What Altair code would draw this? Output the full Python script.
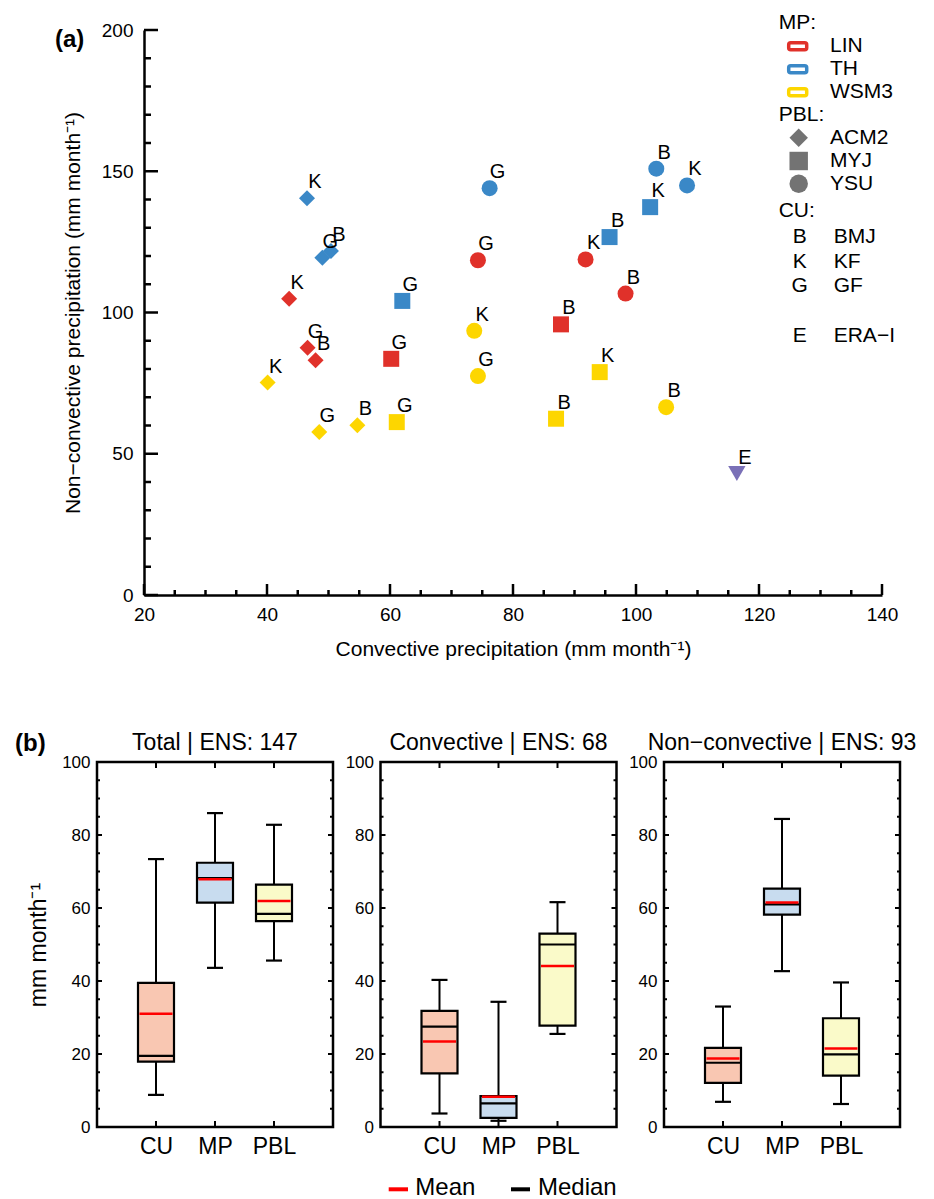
import altair as alt
import pandas as pd

FONT = "Liberation Sans"

# ---------------- Panel (a) data ----------------
run_mp = ['TH', 'TH', 'TH', 'LIN', 'LIN', 'LIN', 'WSM3', 'WSM3', 'WSM3', 'WSM3', 'LIN', 'TH', 'TH',
          'LIN', 'WSM3', 'WSM3', 'LIN', 'WSM3', 'LIN', 'TH', 'LIN', 'WSM3', 'TH', 'TH', 'TH', 'WSM3']
run_pbl = ['ACM2', 'ACM2', 'ACM2', 'ACM2', 'ACM2', 'ACM2', 'ACM2', 'ACM2', 'ACM2', 'MYJ', 'MYJ', 'MYJ', 'YSU',
           'YSU', 'YSU', 'YSU', 'MYJ', 'MYJ', 'YSU', 'MYJ', 'YSU', 'MYJ', 'MYJ', 'YSU', 'YSU', 'YSU']
run_cu = ['K', 'G', 'B', 'K', 'G', 'B', 'K', 'G', 'B', 'G', 'G', 'G', 'G',
          'G', 'K', 'G', 'B', 'B', 'K', 'B', 'B', 'K', 'K', 'B', 'K', 'B']
conv_precip = [46.5, 49.0, 50.4, 43.6, 46.6, 47.9, 40.1, 48.5, 54.7, 61.1, 60.2, 62.0, 76.2,
               74.3, 73.7, 74.3, 87.8, 87.0, 91.8, 95.7, 98.3, 94.1, 102.3, 103.3, 108.3, 104.9]
nonconv_precip = [140.4, 119.4, 121.8, 104.9, 87.5, 83.1, 75.2, 57.7, 60.1, 61.2, 83.6, 104.1, 144.0,
                  118.5, 93.5, 77.5, 95.8, 62.4, 118.8, 126.7, 106.7, 78.9, 137.3, 150.9, 145.0, 66.5]
era_conv = [116.4]
era_nonconv = [43.0]
era_code = ['E']

mp_names = ['LIN', 'TH', 'WSM3']
mp_colors = ['#E0312A', '#3A88C7', '#FDD600']
pbl_names = ['ACM2', 'MYJ', 'YSU']
pbl_shapes = ['diamond', 'square', 'circle']
cu_codes = ['B', 'K', 'G']
cu_names = ['BMJ', 'KF', 'GF']

x_major = [20, 40, 60, 80, 100, 120, 140]
x_minor = [25, 30, 35, 45, 50, 55, 65, 70, 75, 85, 90, 95, 105, 110, 115, 125, 130, 135]
y_major = [0, 50, 100, 150, 200]
y_minor = [10, 20, 30, 40, 60, 70, 80, 90, 110, 120, 130, 140, 160, 170, 180, 190]

# ---------------- Panel (b) data ----------------
groups = ['CU', 'MP', 'PBL']
box_colors = ['#F9C7B2', '#C8DCEF', '#FAFAC9']
panel_titles = ['Total | ENS: 147', 'Convective | ENS: 68', 'Non−convective | ENS: 93']

total_low = [8.8, 43.6, 45.6]
total_q1 = [17.9, 61.5, 56.4]
total_med = [19.5, 68.2, 58.4]
total_mean = [31.0, 67.9, 61.9]
total_q3 = [39.5, 72.4, 66.4]
total_high = [73.4, 86.0, 82.8]

conv_low = [3.7, 1.7, 25.5]
conv_q1 = [14.7, 2.5, 27.8]
conv_med = [27.5, 6.5, 50.0]
conv_mean = [23.4, 8.3, 44.1]
conv_q3 = [31.8, 8.5, 53.0]
conv_high = [40.3, 34.3, 61.6]

nonc_low = [6.9, 42.7, 6.3]
nonc_q1 = [12.1, 58.2, 14.1]
nonc_med = [17.6, 61.0, 19.9]
nonc_mean = [18.8, 61.5, 21.5]
nonc_q3 = [21.7, 65.3, 29.8]
nonc_high = [33.0, 84.4, 39.6]

b_major = [0, 20, 40, 60, 80, 100]
b_minor = [5, 10, 15, 25, 30, 35, 45, 50, 55, 65, 70, 75, 85, 90, 95]

# ---------------- helpers ----------------
def one_text(txt, x, y, size, align='left', weight='normal', color='black'):
    return alt.Chart(pd.DataFrame({'t': [txt]})).mark_text(
        align=align, baseline='middle', fontSize=size, fontWeight=weight, color=color, font=FONT
    ).encode(x=alt.value(x), y=alt.value(y), text='t:N')


# ---------------- Chart (a) ----------------
WA, HA = 738, 565
xs_a = alt.Scale(domain=[20, 140], nice=False, zero=False)
ys_a = alt.Scale(domain=[0, 200], nice=False, zero=False)
xax_a = alt.Axis(values=x_major, title='Convective precipitation (mm month⁻¹)', titleFontSize=21,
                 titleFontWeight='normal', titleColor='black', labelFontSize=19, labelColor='black',
                 labelPadding=10, titlePadding=14, ticks=False, domainColor='black', domainWidth=2.5,
                 grid=False, labelFlush=False, format='d')
yax_a = alt.Axis(values=y_major, title='Non−convective precipitation (mm month⁻¹)', titleFontSize=21,
                 titleFontWeight='normal', titleColor='black', labelFontSize=19, labelColor='black',
                 labelPadding=11, titlePadding=18, ticks=False, domainColor='black', domainWidth=2.5,
                 grid=False, format='d')


def XA(f):
    return alt.X(f, type='quantitative', scale=xs_a, axis=xax_a)


def YA(f):
    return alt.Y(f, type='quantitative', scale=ys_a, axis=yax_a)


runs = pd.DataFrame({'conv': conv_precip, 'nonconv': nonconv_precip, 'mp': run_mp,
                     'pbl': run_pbl, 'cu': run_cu})
era = pd.DataFrame({'conv': era_conv, 'nonconv': era_nonconv, 'cu': era_code})

pts = alt.Chart(runs).mark_point(filled=True, size=256, opacity=1, strokeWidth=0).encode(
    x=XA('conv'), y=YA('nonconv'),
    color=alt.Color('mp:N', scale=alt.Scale(domain=mp_names, range=mp_colors), legend=None),
    shape=alt.Shape('pbl:N', scale=alt.Scale(domain=pbl_names, range=pbl_shapes), legend=None))
lbl = alt.Chart(runs).mark_text(dx=8, dy=-16, fontSize=20, color='black', font=FONT).encode(
    x=XA('conv'), y=YA('nonconv'), text='cu:N')
era_pt = alt.Chart(era).mark_point(filled=True, shape='triangle-down', size=300, opacity=1,
                                   color='#7A70B7', strokeWidth=0).encode(x=XA('conv'), y=YA('nonconv'))
era_lbl = alt.Chart(era).mark_text(dx=8, dy=-16, fontSize=20, color='black', font=FONT).encode(
    x=XA('conv'), y=YA('nonconv'), text='cu:N')

xmaj = alt.Chart(pd.DataFrame({'v': x_major})).mark_rule(strokeWidth=2.5, color='black').encode(
    x=XA('v'), y=alt.value(HA), y2=alt.value(HA - 11))
xmin = alt.Chart(pd.DataFrame({'v': x_minor})).mark_rule(strokeWidth=2.5, color='black').encode(
    x=XA('v'), y=alt.value(HA), y2=alt.value(HA - 5))
ymaj = alt.Chart(pd.DataFrame({'v': y_major})).mark_rule(strokeWidth=2.5, color='black').encode(
    y=YA('v'), x=alt.value(0), x2=alt.value(14))
ymin = alt.Chart(pd.DataFrame({'v': y_minor})).mark_rule(strokeWidth=2.5, color='black').encode(
    y=YA('v'), x=alt.value(0), x2=alt.value(7))

layers_a = [xmaj, xmin, ymaj, ymin, pts, era_pt, lbl, era_lbl,
            one_text('(a)', -89, 10, 24, weight='bold')]

# custom legend (top right)
LX_HEAD, LX_SYM, LX_LAB, LX_CULAB = 634.7, 654.7, 686, 689.7
layers_a.append(one_text('MP:', LX_HEAD, -7.5, 21))
mp_rows = [16.3, 39.3, 62.3]
for name, col, yy in zip(mp_names, mp_colors, mp_rows):
    layers_a.append(alt.Chart(pd.DataFrame({'n': [name]})).mark_rect(
        fill='white', stroke=col, strokeWidth=3.5, cornerRadius=2).encode(
        x=alt.value(LX_SYM - 10), x2=alt.value(LX_SYM + 8), y=alt.value(yy - 3.5), y2=alt.value(yy + 3.5)))
    layers_a.append(one_text(name, LX_LAB, yy, 21))
layers_a.append(one_text('PBL:', LX_HEAD, 85, 21))
pbl_rows = [107.7, 131, 153.7]
for name, shp, yy in zip(pbl_names, pbl_shapes, pbl_rows):
    layers_a.append(alt.Chart(pd.DataFrame({'n': [name]})).mark_point(
        filled=True, shape=shp, size=340, opacity=1, color='#737373', strokeWidth=0).encode(
        x=alt.value(LX_SYM), y=alt.value(yy)))
    layers_a.append(one_text(name, LX_LAB, yy, 21))
layers_a.append(one_text('CU:', LX_HEAD, 180.7, 21))
cu_rows = [206.7, 231.7, 256]
for code, name, yy in zip(cu_codes, cu_names, cu_rows):
    layers_a.append(one_text(code, LX_SYM + 1, yy, 21, align='center'))
    layers_a.append(one_text(name, LX_CULAB, yy, 21))
layers_a.append(one_text('E', LX_SYM + 1, 306, 21, align='center'))
layers_a.append(one_text('ERA−I', LX_CULAB, 306, 21))

chart_a = alt.layer(*layers_a).properties(width=WA, height=HA)

spacer = alt.Chart(pd.DataFrame({'s': [0]})).mark_point(opacity=0).encode(
    x=alt.value(0), y=alt.value(0)).properties(width=1, height=HA)

row_a = alt.hconcat(spacer, chart_a, spacing=46, bounds='flush')

# ---------------- Chart (b) ----------------
WB, HB = 236, 365


def box_panel(title, low, q1, med, mean, q3, high, ytitle, extra=()):
    df = pd.DataFrame({'g': groups, 'low': low, 'q1': q1, 'med': med, 'mean': mean,
                       'q3': q3, 'high': high})
    xsc = alt.Scale(type='point', domain=groups, padding=1)
    ysc = alt.Scale(domain=[0, 100], nice=False, zero=False)
    xax = alt.Axis(title=None, labelFontSize=23, labelColor='black', labelPadding=8, ticks=False,
                   domain=False, labelAngle=0, grid=False)
    if ytitle:
        yax = alt.Axis(title=ytitle, values=b_major, labelFontSize=17, labelColor='black', labelPadding=7,
                       ticks=False, domain=False, grid=False, titleFontSize=23, titleFontWeight='normal',
                       titleColor='black', titlePadding=11, format='d')
    else:
        yax = alt.Axis(title=None, values=b_major, labelFontSize=17, labelColor='black', labelPadding=7,
                       ticks=False, domain=False, grid=False, format='d')

    def X():
        return alt.X('g:N', scale=xsc, axis=xax, sort=groups)

    def Y(f):
        return alt.Y(f, type='quantitative', scale=ysc, axis=yax)

    base = alt.Chart(df)
    whisk = base.mark_rule(strokeWidth=2, color='black').encode(x=X(), y=Y('low'), y2='high')
    cap_lo = base.mark_tick(size=16, thickness=2.2, color='black', opacity=1).encode(x=X(), y=Y('low'))
    cap_hi = base.mark_tick(size=16, thickness=2.2, color='black', opacity=1).encode(x=X(), y=Y('high'))
    box = base.mark_bar(size=36, stroke='black', strokeWidth=2.2, opacity=1).encode(
        x=X(), y=Y('q1'), y2='q3',
        fill=alt.Fill('g:N', scale=alt.Scale(domain=groups, range=box_colors), legend=None))
    medt = base.mark_tick(size=36, thickness=2.2, color='black', opacity=1).encode(x=X(), y=Y('med'))
    meant = base.mark_tick(size=33, thickness=2.5, color='#FF0000', opacity=1).encode(x=X(), y=Y('mean'))

    tmaj = pd.DataFrame({'v': b_major})
    tmin = pd.DataFrame({'v': b_minor})
    tg = pd.DataFrame({'g': groups})
    rules = [
        alt.Chart(tmaj).mark_rule(strokeWidth=2, color='black').encode(y=Y('v'), x=alt.value(0), x2=alt.value(5)),
        alt.Chart(tmin).mark_rule(strokeWidth=2, color='black').encode(y=Y('v'), x=alt.value(0), x2=alt.value(3)),
        alt.Chart(tmaj).mark_rule(strokeWidth=2, color='black').encode(y=Y('v'), x=alt.value(WB), x2=alt.value(WB - 5)),
        alt.Chart(tmin).mark_rule(strokeWidth=2, color='black').encode(y=Y('v'), x=alt.value(WB), x2=alt.value(WB - 3)),
        alt.Chart(tg).mark_rule(strokeWidth=2, color='black').encode(x=X(), y=alt.value(0), y2=alt.value(6)),
        alt.Chart(tg).mark_rule(strokeWidth=2, color='black').encode(x=X(), y=alt.value(HB), y2=alt.value(HB - 6)),
    ]
    ttl = one_text(title, WB / 2, -19.5, 23, align='center')
    return alt.layer(*rules, whisk, cap_lo, cap_hi, box, medt, meant, ttl, *extra).properties(
        width=WB, height=HB,
        view=alt.ViewBackground(stroke='black', strokeWidth=2.5))


b_label = [one_text('(b)', -82, -18, 24, weight='bold')]
legend_b = [
    alt.Chart(pd.DataFrame({'n': ['Mean']})).mark_rule(strokeWidth=4, color='#FF0000').encode(
        x=alt.value(8.2), x2=alt.value(27.5), y=alt.value(427.3)),
    one_text('Mean', 34.8, 426, 24),
    alt.Chart(pd.DataFrame({'n': ['Median']})).mark_rule(strokeWidth=4, color='black').encode(
        x=alt.value(130.5), x2=alt.value(149.5), y=alt.value(427.3)),
    one_text('Median', 157.5, 426, 24),
]

b1 = box_panel(panel_titles[0], total_low, total_q1, total_med, total_mean, total_q3, total_high,
               'mm month⁻¹', b_label)
b2 = box_panel(panel_titles[1], conv_low, conv_q1, conv_med, conv_mean, conv_q3, conv_high,
               None, legend_b)
b3 = box_panel(panel_titles[2], nonc_low, nonc_q1, nonc_med, nonc_mean, nonc_q3, nonc_high,
               None)

row_b = alt.hconcat(b1, b2, b3, spacing=47.5, bounds='flush').resolve_scale(
    x='independent', y='independent')

# row_a is a nested layout whose own height is not counted by the flush layout,
# so the spacing carries the height of panel (a) plus the gap between the panels.
chart = alt.vconcat(row_a, row_b, spacing=HA + 167, bounds='flush').resolve_scale(
    x='independent', y='independent').properties(
    padding={'left': 13, 'top': 11, 'right': 5, 'bottom': 0}
).configure(font=FONT).configure_view(strokeWidth=0)

chart.save("out.html", embed_options={"renderer": "svg", "actions": False})
